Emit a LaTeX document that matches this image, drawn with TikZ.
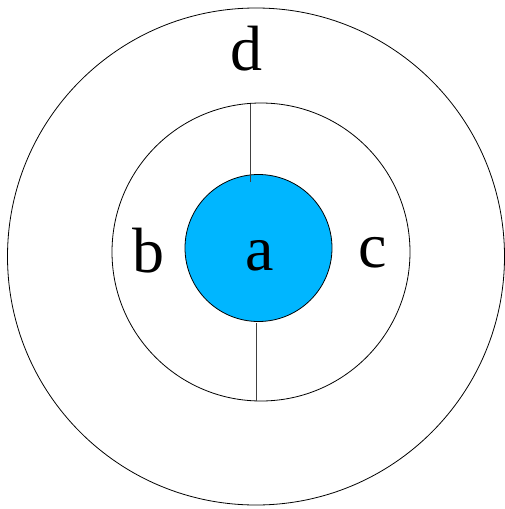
\documentclass[tikz,border=0pt]{standalone}
\usepackage{fontspec}
\setmainfont{Liberation Serif}
\definecolor{tgtCore}{HTML}{00B6FF}
\definecolor{tgtInk}{HTML}{000000}
\tikzset{
  tgt ring/.style={circle, draw=tgtInk, line width=0.8pt, inner sep=0pt},
  tgt core/.style={tgt ring, fill=tgtCore},
  tgt spoke/.style={draw=tgtInk!75, line width=0.9pt},
  tgt label/.style={font=\fontsize{64}{64}\selectfont, text=tgtInk, anchor=base, inner sep=0pt},
}
\begin{document}
\begin{tikzpicture}[x=1pt,y=-1pt]
\useasboundingbox(0,0)rectangle(505,509);
\node[tgt ring,minimum size=497pt](outer)at(256,256.5){};
\node[tgt ring,minimum size=298pt](mid)at(261,252){};
\node[tgt core,minimum size=147pt](core)at(258.5,248){};
\coordinate(topA)at(250.5,103.5);\coordinate(topB)at(250.5,182);
\coordinate(botA)at(256.5,323);\coordinate(botB)at(256.5,400.5);
\draw[tgt spoke](topA)--(topB);
\draw[tgt spoke](botA)--(botB);
\node[tgt label](d)at(246,70){d};
\node[tgt label](b)at(148.5,272){b};
\node[tgt label](a)at(260,270){a};
\node[tgt label](c)at(372.5,267){c};
\end{tikzpicture}
\end{document}
